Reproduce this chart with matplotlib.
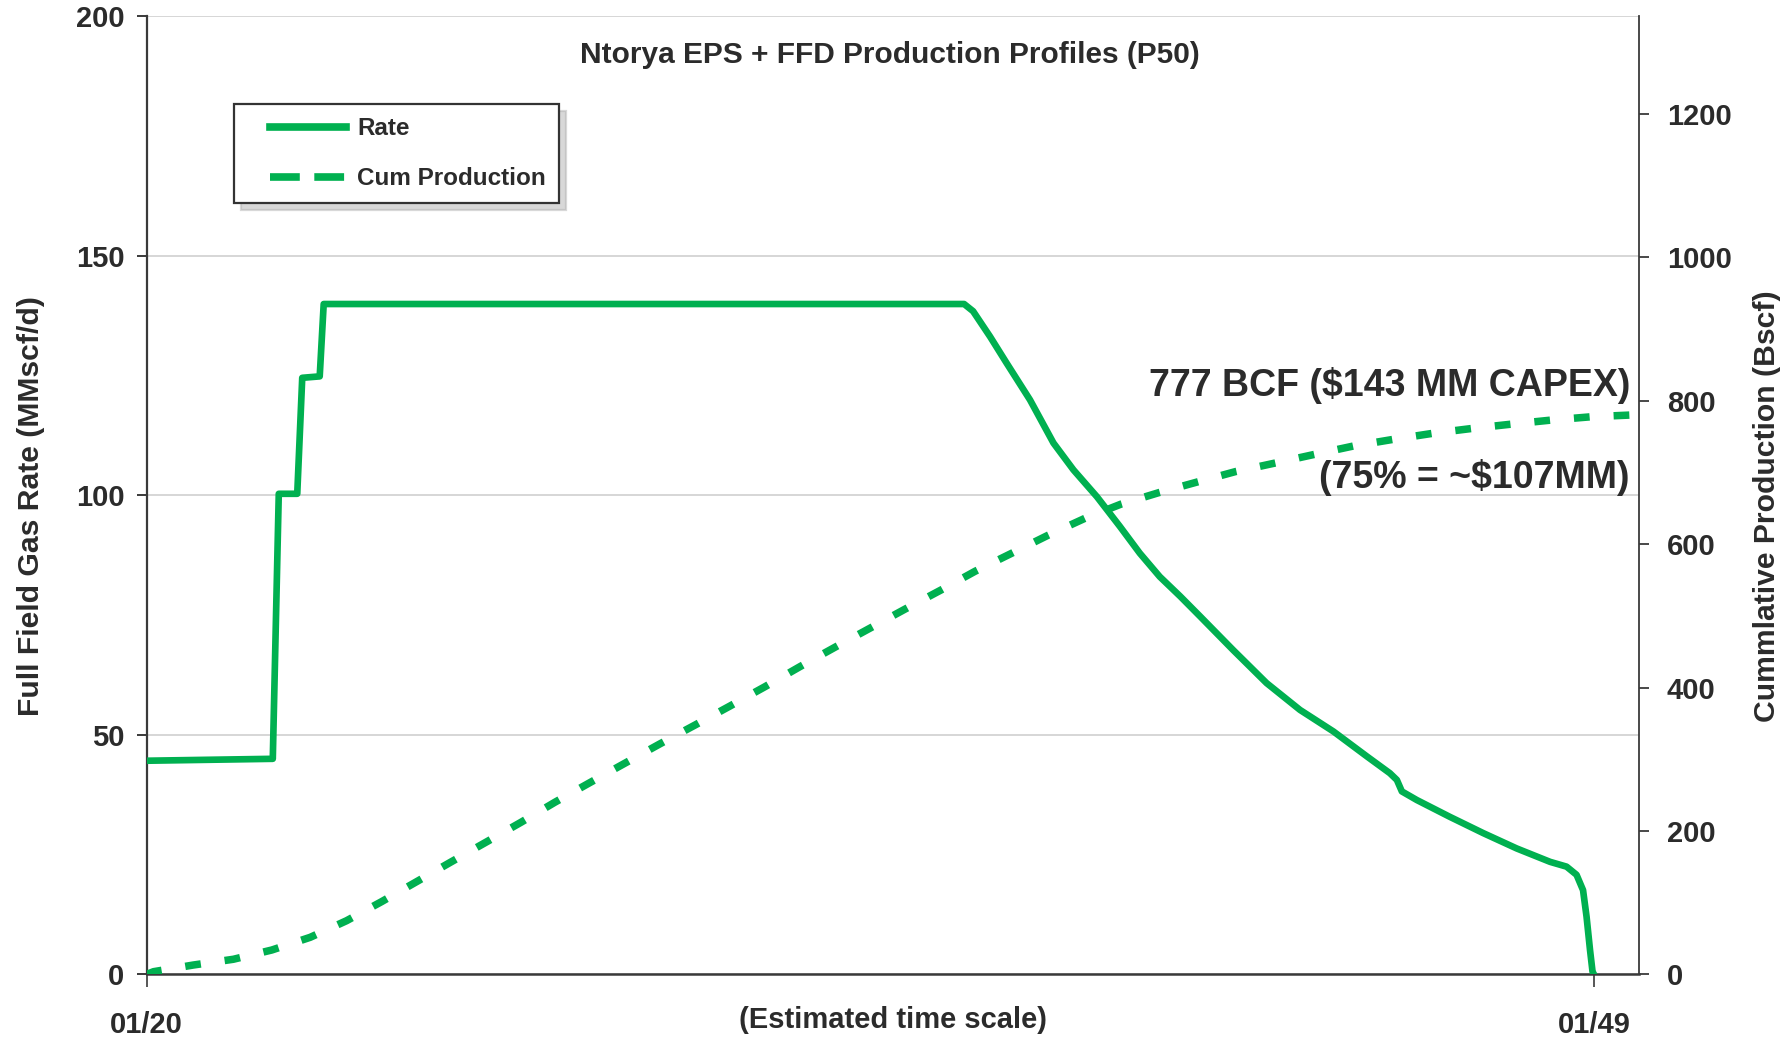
import matplotlib
matplotlib.use('Agg')
import matplotlib.pyplot as plt
from matplotlib.lines import Line2D
from matplotlib.legend_handler import HandlerLine2D
from matplotlib import font_manager

# ---------------- data ----------------
rate_years = [2020.00, 2022.53, 2022.65, 2023.02, 2023.12, 2023.47, 2023.55, 2036.38,
              2036.56, 2036.90, 2037.23, 2037.70, 2038.17, 2038.57, 2039.04, 2039.50,
              2039.90, 2040.30, 2040.71, 2041.11, 2041.77, 2042.44, 2043.11, 2043.78,
              2044.45, 2044.91, 2045.05, 2045.15, 2045.45, 2046.11, 2046.78, 2047.45,
              2048.12, 2048.45, 2048.65, 2048.78, 2048.85, 2048.92, 2048.97, 2049.00]
rate_values = [44.6, 45.0, 100.3, 100.3, 124.5, 124.8, 139.9, 139.9,
               138.4, 133.1, 127.6, 119.9, 110.9, 105.3, 99.7, 93.5,
               87.9, 83.0, 78.9, 74.7, 67.7, 60.8, 55.2, 50.7,
               45.5, 42.0, 40.6, 38.2, 36.4, 32.9, 29.5, 26.3,
               23.5, 22.5, 20.8, 17.6, 12.1, 5.1, 0.6, 0.0]

cum_years = [2020.00, 2020.14, 2020.94, 2021.74, 2022.51, 2023.28, 2024.01, 2024.71,
             2025.41, 2026.11, 2026.82, 2027.50, 2028.18, 2028.88, 2029.58, 2030.28,
             2030.99, 2031.69, 2032.39, 2033.09, 2033.79, 2034.49, 2035.19, 2035.92,
             2036.60, 2037.33, 2038.07, 2038.80, 2039.52, 2040.30, 2041.08, 2041.82,
             2042.64, 2043.43, 2044.18, 2044.98, 2045.77, 2046.57, 2047.36, 2048.15,
             2048.95, 2049.74, 2049.90]
cum_values = [0.0, 3.9, 13.2, 21.2, 34.1, 51.8, 75.0, 101.5,
              129.3, 157.2, 185.1, 212.0, 240.0, 267.3, 294.3, 321.2,
              347.7, 374.2, 401.1, 429.0, 456.0, 482.5, 509.0, 536.0,
              562.0, 587.0, 612.5, 635.8, 655.5, 672.0, 687.0, 701.0,
              713.3, 725.4, 736.6, 745.9, 754.3, 761.2, 767.2, 772.8,
              777.4, 779.8, 780.0]

left_ticks = [0, 50, 100, 150, 200]
right_ticks = [0, 200, 400, 600, 800, 1000, 1200]
x_tick_years = [2020, 2049]
x_tick_labels = ['01/20', '01/49']

title_text = 'Ntorya EPS + FFD Production Profiles (P50)'
left_label = 'Full Field Gas Rate (MMscf/d)'
right_label = 'Cummlative Production (Bscf)'
x_label = '(Estimated time scale)'
note1 = '777 BCF ($143 MM CAPEX)'
note2 = '(75% = ~$107MM)'
series_names = ['Rate', 'Cum Production']

# ---------------- style ----------------
GREEN = '#00B050'
TXT = '#2b2b2b'
SPINE = '#3a3a3a'
names = {f.name for f in font_manager.fontManager.ttflist}
fam = ['Liberation Sans Narrow', 'Liberation Sans', 'DejaVu Sans']
fam = [f for f in fam if f in names] or ['DejaVu Sans']
plt.rcParams['font.family'] = fam
plt.rcParams['font.weight'] = 'bold'
plt.rcParams['axes.labelweight'] = 'bold'

fig = plt.figure(figsize=(17.91, 10.38), dpi=100)
ax = fig.add_axes([0.0818, 0.0612, 0.9151 - 0.0818, 0.9846 - 0.0612])
ax2 = ax.twinx()

ax.set_xlim(2020, 2049.90)
ax.set_ylim(0, 200)
ax2.set_ylim(0, 1336)

ax.set_yticks(left_ticks)
ax2.set_yticks(right_ticks)
ax.set_xticks(x_tick_years)
ax.set_xticklabels(x_tick_labels)

ax.yaxis.grid(True, color='#d0d0d0', lw=1.2)
ax.set_axisbelow(True)

line_rate, = ax.plot(rate_years, rate_values, color=GREEN, lw=4.8,
                     solid_joinstyle='round', zorder=3)
line_cum, = ax2.plot(cum_years, cum_values, color=GREEN, lw=5.4,
                     linestyle=(0, (2.1, 3.2)), dash_capstyle='butt', zorder=3)

for a in (ax, ax2):
    a.spines['top'].set_visible(False)
ax.spines['right'].set_visible(False)
ax2.spines['left'].set_visible(False)
ax2.spines['bottom'].set_visible(False)
ax.spines['left'].set_color(SPINE)
ax.spines['left'].set_linewidth(1.6)
ax.spines['bottom'].set_color(SPINE)
ax.spines['bottom'].set_linewidth(1.8)
ax2.spines['right'].set_color(SPINE)
ax2.spines['right'].set_linewidth(1.3)

ax.tick_params(axis='y', direction='out', length=7, width=1.4, color=SPINE,
               labelsize=21, labelcolor=TXT, pad=9)
ax.tick_params(axis='x', direction='out', length=9, width=1.2, color=SPINE,
               labelsize=21, labelcolor=TXT, pad=17)
ax2.tick_params(axis='y', direction='out', length=7, width=1.3, color=SPINE,
                labelsize=21, labelcolor=TXT, pad=13)

ax.set_ylabel(left_label, fontsize=21.7, color=TXT, fontweight='bold')
ax.yaxis.label.set_verticalalignment('center')
ax.yaxis.set_label_coords(-0.0775, 0.489)
ax2.set_ylabel(right_label, fontsize=21.7, color=TXT, fontweight='bold', rotation=90)
ax2.yaxis.label.set_verticalalignment('center')
ax2.yaxis.set_label_coords(1.0860, 0.489)

ax.text(0.5, -0.0475, x_label, transform=ax.transAxes, ha='center', va='center',
        fontsize=21, color=TXT)
ax.text(0.498, 0.959, title_text, transform=ax.transAxes, ha='center', va='center',
        fontsize=21.5, color=TXT)
ax2.text(0.994, 0.615, note1, transform=ax.transAxes, ha='right', va='center',
         fontsize=27, color=TXT)
ax2.text(0.994, 0.5185, note2, transform=ax.transAxes, ha='right', va='center',
         fontsize=27, color=TXT)


class GapHandler(HandlerLine2D):
    def __init__(self, gap, **kw):
        super().__init__(**kw)
        self.gap = gap

    def get_xdata(self, legend, xdescent, ydescent, width, height, fontsize):
        x0 = -xdescent + self.gap * fontsize
        x1 = -xdescent + width
        return [x0, x1], [(x0 + x1) / 2]


h_rate = Line2D([], [], color=GREEN, lw=5.5)
h_cum = Line2D([], [], color=GREEN, lw=5.5, linestyle=(0, (3.9, 1.9)),
               dash_capstyle='butt')
hm = GapHandler(0.93)
leg = ax.legend([h_rate, h_cum], series_names, loc='upper left',
                bbox_to_anchor=(0.0586, 0.9082), borderaxespad=0,
                fontsize=17.5, labelcolor=TXT, frameon=True, fancybox=False,
                shadow={'ox': 5, 'oy': -5, 'shade': 0.3},
                framealpha=1, edgecolor='#333333', borderpad=0.55,
                labelspacing=1.1, handlelength=4.04, handletextpad=0.47,
                handler_map={h_rate: hm, h_cum: hm})
leg.get_frame().set_linewidth(1.6)
leg.set_zorder(10)

fig.savefig('out.png', dpi=100, facecolor='white')
